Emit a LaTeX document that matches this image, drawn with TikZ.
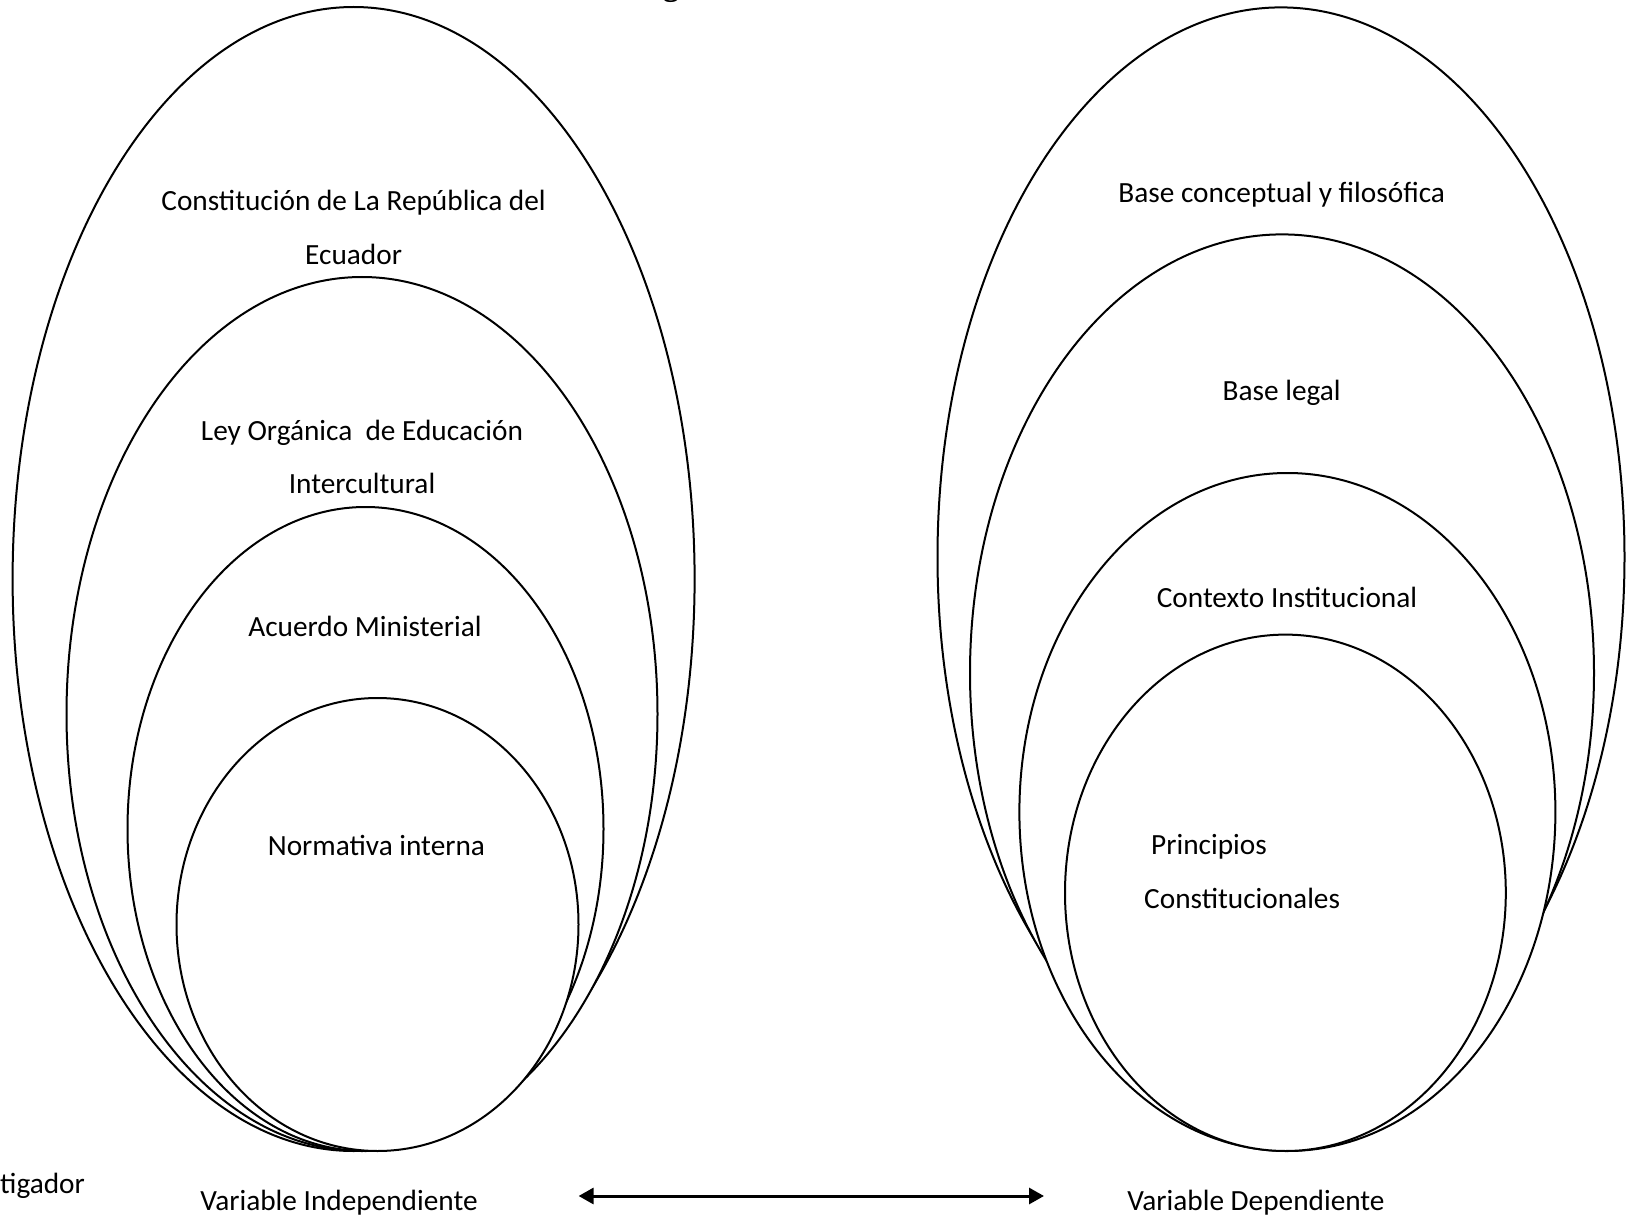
\documentclass[tikz,border=0pt]{standalone}
\usepackage{fontspec}
\setmainfont{Carlito}
\newfontfamily\titlefont{Liberation Serif}
\usetikzlibrary{arrows.meta}
\begin{document}
\begin{tikzpicture}[x=1pt,y=-1pt,
  oval/.style={line width=2pt, fill=white},
  lbl/.style={font=\fontsize{29.3}{35}\selectfont, inner sep=0pt, text height=21pt, text depth=0pt},
  conn/.style={line width=3pt, {Triangle[length=15pt,width=16pt]}-{Triangle[length=15pt,width=16pt]}}]
\useasboundingbox (0,0) rectangle (1626,1217);
% left group
\draw[oval] (353.6,579) ellipse [x radius=341, y radius=572];
\draw[oval] (362,714) ellipse [x radius=295.5, y radius=437];
\draw[oval] (365.5,829) ellipse [x radius=238, y radius=322];
\draw[oval] (377.5,924.5) ellipse [x radius=201, y radius=226.5];
% right group
\draw[oval] (1281,557) ellipse [x radius=343.5, y radius=549.6];
\draw[oval] (1282,673) ellipse [x radius=312, y radius=438.6];
\draw[oval] (1287.4,812) ellipse [x radius=268, y radius=339];
\draw[oval] (1285.4,892.8) ellipse [x radius=220.4, y radius=258.2];
% texts
\node[lbl] (t1) at (353.6,200) {Constitución de La República del};
\node[lbl] (t2) at (353.6,254) {Ecuador};
\node[lbl] (t3) at (362,430) {Ley Orgánica\ \ de Educación};
\node[lbl] (t4) at (362,483) {Intercultural};
\node[lbl] (t5) at (365,626) {Acuerdo Ministerial};
\node[lbl] (t6) at (376.4,845) {Normativa interna};
\node[lbl] (r1) at (1281.7,192) {Base conceptual y filosófica};
\node[lbl] (r2) at (1281.7,390) {Base legal};
\node[lbl] (r3) at (1287,597) {Contexto Institucional};
\node[lbl,anchor=west] (r4) at (1151,844) {Principios};
\node[lbl,anchor=west] (r5) at (1144,898) {Constitucionales};
\node[lbl,anchor=west] (src) at (0,1183) {tigador};
\node[lbl] (vi) at (339,1200) {Variable Independiente};
\node[lbl] (vd) at (1256,1200) {Variable Dependiente};
\node[font=\titlefont\bfseries\fontsize{32}{34}\selectfont, anchor=base, inner sep=0pt] (title) at (671,-4.5) {g};
\coordinate (al) at (578.6,1196);
\coordinate (ar) at (1044,1196);
\draw[conn] (al) -- (ar);
\end{tikzpicture}
\end{document}
